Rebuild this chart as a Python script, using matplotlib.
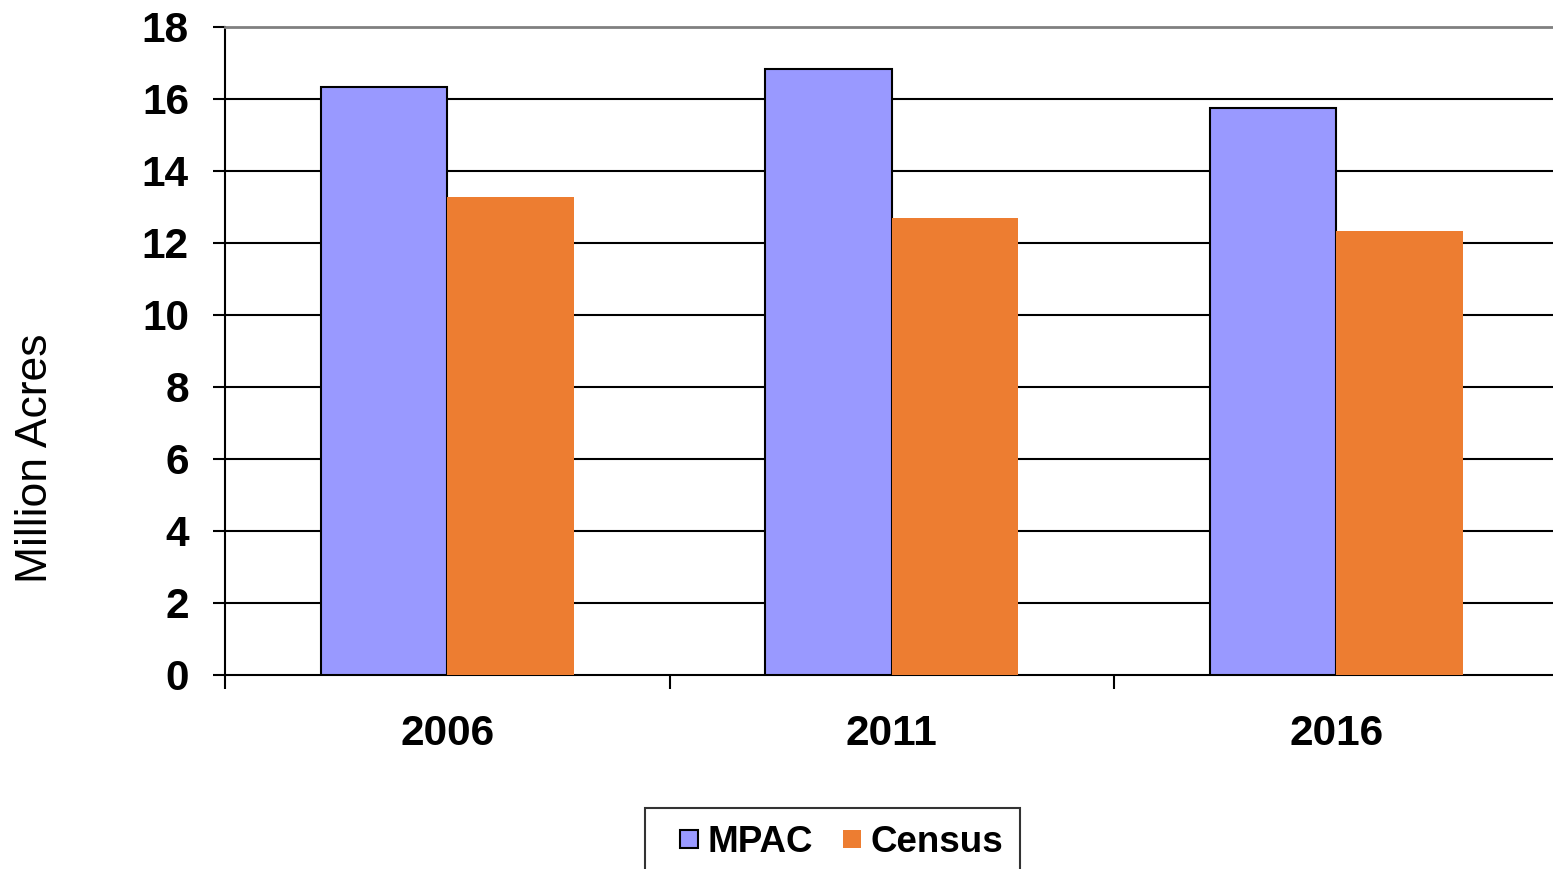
import matplotlib
matplotlib.use("Agg")
import matplotlib.pyplot as plt
from matplotlib.patches import Rectangle
from matplotlib.legend_handler import HandlerPatch
import numpy as np

years = ["2006", "2011", "2016"]
mpac = [16.33, 16.83, 15.75]
census = [13.28, 12.69, 12.33]
series_names = ["MPAC", "Census"]
yticks = [0, 2, 4, 6, 8, 10, 12, 14, 16, 18]

plt.rcParams["font.family"] = ["Liberation Sans", "DejaVu Sans"]

W, H = 1553, 869
fig = plt.figure(figsize=(W / 100, H / 100), dpi=100)
ax = fig.add_axes([225 / W, 1 - 675 / H, (1558.5 - 225) / W, (675 - 27) / H])

x = np.arange(len(years))
w = 0.285
b1 = ax.bar(x - w / 2, mpac, width=w, color="#9999FF", edgecolor="black", linewidth=1.5,
            label=series_names[0], zorder=3)
b2 = ax.bar(x + w / 2, census, width=w, color="#ED7D31", edgecolor="none", linewidth=0,
            label=series_names[1], zorder=3)

ax.set_xlim(-0.5, len(years) - 0.5)
ax.set_ylim(0, 18)

# horizontal gridlines
for v in yticks[1:-1]:
    ax.axhline(v, color="black", linewidth=1.5, zorder=1)

ax.set_yticks(yticks)
ax.set_yticklabels([str(v) for v in yticks], fontsize=30.5, fontweight="bold")
ax.tick_params(axis="y", direction="out", length=9, width=1.5, pad=17)

ax.set_xticks(np.arange(-0.5, len(years) + 0.5, 1.0))
ax.set_xticklabels([])
ax.tick_params(axis="x", which="major", direction="out", length=10, width=1.5)
ax.set_xticks(x, minor=True)
ax.set_xticklabels(years, minor=True, fontsize=30.5, fontweight="bold")
ax.tick_params(axis="x", which="minor", length=0, pad=28)

for side in ["left", "bottom"]:
    ax.spines[side].set_linewidth(1.5)
    ax.spines[side].set_color("black")
ax.spines["top"].set_color("#808080")
ax.spines["top"].set_linewidth(2)
ax.spines["right"].set_visible(False)

fig.text(47 / W, 1 - 458.5 / H, "Million Acres", fontsize=32, rotation=90,
         rotation_mode="anchor", ha="center", va="baseline")


def square_right(legend, orig_handle, xdescent, ydescent, width, height, fontsize):
    # small square key, pushed to the right end of the handle box
    s = 0.5 * fontsize
    return Rectangle((width - s - xdescent, (height - s) / 2 - ydescent), s, s)


leg = fig.legend(handles=[b1.patches[0], b2.patches[0]], labels=series_names,
                 loc="upper left", bbox_to_anchor=(645 / W, 1 - 808 / H),
                 ncol=2, frameon=True, fancybox=False, edgecolor="black",
                 prop={"size": 26.5, "weight": "bold"}, handlelength=0.98,
                 handleheight=0.5, handletextpad=0.26, columnspacing=0.32,
                 borderpad=0.46, borderaxespad=0,
                 handler_map={Rectangle: HandlerPatch(patch_func=square_right)})
leg.get_frame().set_linewidth(1.5)

fig.savefig("out.png", dpi=100)
